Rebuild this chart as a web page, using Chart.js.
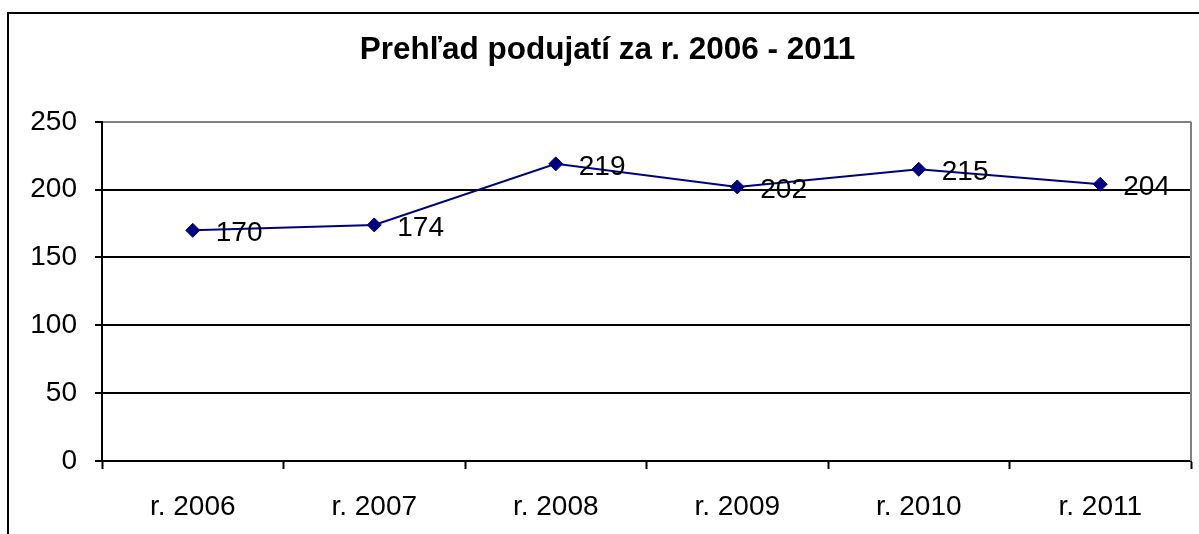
<!DOCTYPE html>
<html>
<head>
<meta charset="utf-8">
<script src="https://cdn.jsdelivr.net/npm/chart.js@4/dist/chart.umd.min.js"></script>
<style>
  html, body { margin: 0; padding: 0; background: #fff; overflow: hidden; }
  #wrap { width: 1199px; height: 534px; position: relative; }
</style>
</head>
<body>
<div id="wrap"><canvas id="graf"></canvas></div>
<script>
const roky = ["r. 2006", "r. 2007", "r. 2008", "r. 2009", "r. 2010", "r. 2011"];
const podujatia = [170, 174, 219, 202, 215, 204];
const titulok = "Prehľad podujatí za r. 2006 - 2011";
const yMax = 250;
const yKrok = 50;

const pismo = "'Liberation Sans', Arial, Helvetica, sans-serif";

// ramik okolo celeho grafu + siva prava hrana plochy
const ramik = {
    id: 'ramik',
    afterLayout(chart) {
        // titulok je centrovany na cely ramik, nie na canvas
        if (chart.titleBlock) {
            chart.titleBlock.left += 12;
            chart.titleBlock.right += 12;
        }
    },
    beforeDraw(chart) {
        const ctx = chart.ctx;
        ctx.save();
        ctx.strokeStyle = '#000';
        ctx.lineWidth = 2;
        ctx.strokeRect(8, 13, 1300, 700);
        ctx.restore();
    },
    afterDatasetsDraw(chart) {
        const ctx = chart.ctx;
        const a = chart.chartArea;
        ctx.save();
        ctx.strokeStyle = '#808080';
        ctx.lineWidth = 2;
        ctx.beginPath();
        ctx.moveTo(a.right, a.top);
        ctx.lineTo(a.right, a.bottom);
        ctx.stroke();
        ctx.restore();
    }
};

// hodnoty vedla bodov
const popisky = {
    id: 'popisky',
    afterDatasetsDraw(chart) {
        const ctx = chart.ctx;
        const meta = chart.getDatasetMeta(0);
        ctx.save();
        ctx.font = '28px ' + pismo;
        ctx.fillStyle = '#000';
        ctx.textAlign = 'left';
        ctx.textBaseline = 'middle';
        meta.data.forEach((pt, i) => {
            ctx.fillText(String(podujatia[i]), pt.x + 23, pt.y + 3);
        });
        ctx.restore();
    }
};

new Chart(document.getElementById('graf'), {
    type: 'line',
    data: {
        labels: roky,
        datasets: [{
            data: podujatia,
            borderColor: '#000080',
            backgroundColor: '#000080',
            borderWidth: 2,
            pointStyle: 'rectRot',
            pointRadius: 7,
            pointBorderWidth: 1,
            pointBorderColor: '#000080',
            pointBackgroundColor: '#000080',
            tension: 0
        }]
    },
    options: {
        responsive: true,
        maintainAspectRatio: false,
        animation: false,
        layout: { padding: { left: 0, right: 8, top: 0, bottom: 0 } },
        plugins: {
            legend: { display: false },
            tooltip: { enabled: false },
            title: {
                display: true,
                text: titulok,
                color: '#000',
                font: { family: pismo, size: 31.5, weight: 'bold', lineHeight: 1.2 },
                padding: { top: 31, bottom: 53 }
            }
        },
        scales: {
            x: {
                offset: true,
                grid: {
                    offset: true,
                    drawOnChartArea: false,
                    drawTicks: true,
                    tickLength: 8,
                    tickWidth: 2,
                    tickColor: '#000'
                },
                border: { color: '#000', width: 2 },
                ticks: {
                    color: '#000',
                    padding: 21,
                    maxRotation: 0,
                    font: { family: pismo, size: 28 }
                },
                afterFit(s) { s.height = 73; }
            },
            y: {
                min: 0,
                max: yMax,
                grid: {
                    color: c => (c.tick && c.tick.value === yMax) ? '#808080' : '#000',
                    lineWidth: 2,
                    tickLength: 7,
                    tickColor: '#000',
                    tickWidth: 2
                },
                border: { color: '#000', width: 2 },
                ticks: {
                    stepSize: yKrok,
                    color: '#000',
                    padding: 18,
                    font: { family: pismo, size: 28 }
                },
                afterFit(s) { s.width = 102; }
            }
        }
    },
    plugins: [ramik, popisky]
});
</script>
</body>
</html>
